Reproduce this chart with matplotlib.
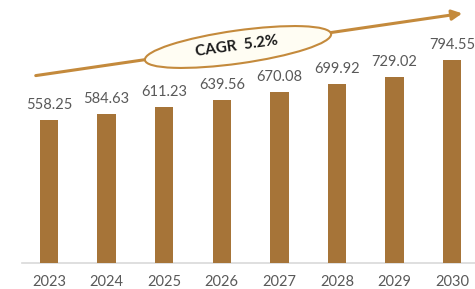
import matplotlib.pyplot as plt
from matplotlib.patches import Ellipse, FancyArrowPatch
from matplotlib.transforms import Affine2D

years = ["2023", "2024", "2025", "2026", "2027", "2028", "2029", "2030"]
values = [558.25, 584.63, 611.23, 639.56, 670.08, 699.92, 729.02, 794.55]
cagr_label = "CAGR  5.2%"

W, H = 475, 289
fig = plt.figure(figsize=(W / 100, H / 100), dpi=100)
ax = fig.add_axes([0, 0, 1, 1])

bar_color = "#A67438"
accent = "#C48A3C"
text_gray = "#595959"
font = ["Lato", "DejaVu Sans"]

x = list(range(len(years)))
ax.bar(x, values, width=0.32, color=bar_color, zorder=2)

spacing = 57.6
ax.set_xlim(-49 / spacing, (W - 49) / spacing)
units_per_px = 794.55 / 203.0
ax.set_ylim(-(H - 263) * units_per_px, 263 * units_per_px)

for sp in ax.spines.values():
    sp.set_visible(False)
ax.set_yticks([])
ax.set_xticks([])

ax.plot([(22 - 49) / spacing, (W - 49) / spacing], [0, 0], color="#D9D9D9", lw=1.2, zorder=1)

for xi, v, yr in zip(x, values, years):
    ax.text(xi, v + 15 * units_per_px, f"{v:.2f}", ha="center", va="center",
            fontsize=10.5, color=text_gray, family=font)
    ax.text(xi, -19 * units_per_px, yr, ha="center", va="center",
            fontsize=10.5, color=text_gray, family=font)


def fx(px):
    return px / W


def fy(py):
    return 1 - py / H


arrow = FancyArrowPatch((fx(33), fy(76)), (fx(465), fy(13)), transform=fig.transFigure,
                        arrowstyle="-|>,head_length=6,head_width=3", color=accent, lw=2.2,
                        mutation_scale=1, zorder=3)
fig.patches.append(arrow)

ell = Ellipse((0, 0), width=188, height=33, angle=0, facecolor="#FFFDF3",
              edgecolor=accent, lw=1.5, zorder=4)
ell.set_transform(Affine2D().rotate_deg(8).translate(238, H - 47)
                  + Affine2D().scale(1 / W, 1 / H) + fig.transFigure)
fig.patches.append(ell)

fig.text(fx(237), fy(46), cagr_label, ha="center", va="center", rotation=8,
         fontsize=11, fontweight="bold", color="#1a1a1a", family=font, zorder=5)

fig.savefig("out.png", dpi=100)
